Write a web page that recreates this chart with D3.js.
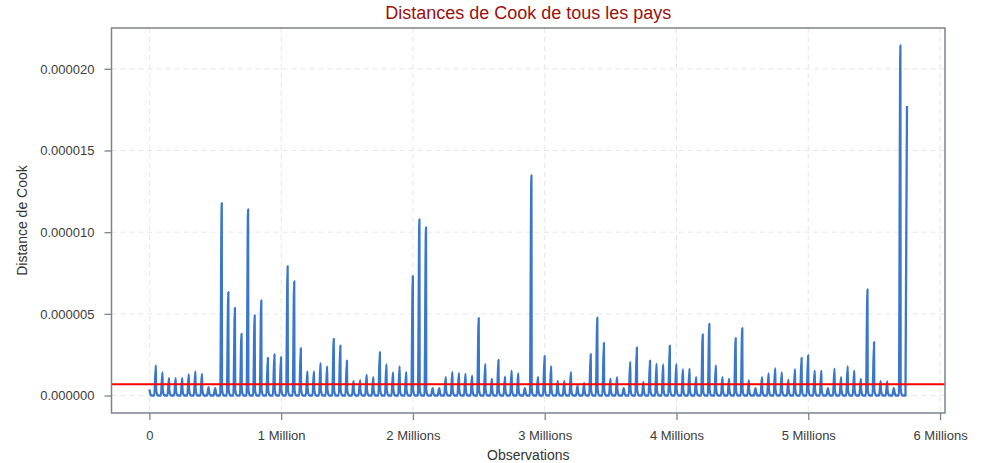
<html>
<head>
<meta charset="utf-8">
<title>Distances de Cook de tous les pays</title>
<script src="https://d3js.org/d3.v7.min.js"></script>
<style>
  body { margin: 0; background: #fff; }
  text { font-family: "Liberation Sans", Arial, sans-serif; }
</style>
</head>
<body>
<div id="chart"></div>
<script>
// Cook's distance peak of each country block (x 1e-6), one block = 50 000 observations
var blockSize = 50000;
var peaks = [
  1.84, 1.41, 1.06, 1.06, 1.06, 1.29, 1.47, 1.33, 0.51, 0.45,
  11.78, 6.33, 5.37, 3.78, 11.39, 4.90, 5.82, 2.31, 2.51, 2.35,
  7.92, 6.98, 2.90, 1.47, 1.47, 1.98, 1.78, 3.47, 3.06, 2.14,
  0.88, 0.92, 1.27, 1.12, 2.65, 1.90, 1.41, 1.78, 1.43, 7.31,
  10.78, 10.29, 0.45, 0.45, 1.12, 1.43, 1.37, 1.33, 1.22, 4.74,
  1.92, 1.02, 2.18, 1.16, 1.53, 1.35, 0.45, 13.47, 1.14, 2.41,
  1.80, 0.88, 0.88, 1.43, 0.60, 0.76, 2.53, 4.76, 3.22, 1.02,
  1.12, 0.45, 2.06, 2.94, 0.82, 2.14, 1.94, 1.90, 3.06, 1.92,
  1.61, 1.65, 1.12, 3.74, 4.39, 1.84, 1.12, 1.02, 3.51, 4.12,
  0.92, 0.45, 1.12, 1.35, 1.67, 1.41, 0.96, 1.61, 2.31, 2.45,
  1.53, 1.53, 0.45, 1.65, 1.12, 1.78, 1.53, 1.02, 6.49, 3.27,
  0.88, 0.86, 0.45, 21.43, 17.72
];
var blockStart = 0.37;   // value at the start of each block (x 1e-6)
var blockTrough = 0.0;   // value in the middle of each block (x 1e-6)
var threshold = 4 / 5750000;

var yTicks = [0, 0.000005, 0.00001, 0.000015, 0.00002];
var xTicks = [0, 1e6, 2e6, 3e6, 4e6, 5e6, 6e6];
var xTickLabels = ["0", "1 Million", "2 Millions", "3 Millions", "4 Millions", "5 Millions", "6 Millions"];

var W = 984, H = 463;
var margin = {top: 28, right: 39, bottom: 50, left: 111.5};
var width = W - margin.left - margin.right,
    height = H - margin.top - margin.bottom;

var svg = d3.select("#chart").append("svg")
    .attr("width", W)
    .attr("height", H);

var g = svg.append("g")
    .attr("transform", "translate(" + margin.left + "," + margin.top + ")");

var x = d3.scaleLinear().domain([-287500, 6037500]).range([0, width]);
var y = d3.scaleLinear().domain([-1.07e-6, 22.5e-6]).range([height, 0]);

// grid
g.selectAll(".gy").data(yTicks).enter().append("line")
    .attr("x1", 0).attr("x2", width)
    .attr("y1", function(d) { return y(d); }).attr("y2", function(d) { return y(d); })
    .style("stroke", "#e6e6e6").style("stroke-width", 1).style("stroke-dasharray", "5,4");
g.selectAll(".gx").data(xTicks).enter().append("line")
    .attr("y1", 0).attr("y2", height)
    .attr("x1", function(d) { return x(d); }).attr("x2", function(d) { return x(d); })
    .style("stroke", "#e6e6e6").style("stroke-width", 1).style("stroke-dasharray", "5,4");

// line points: each block starts at blockStart, drops into a trough, rises to its peak
var pts = [];
peaks.forEach(function(p, i) {
  var s = i * blockSize;
  pts.push([s + 0.02 * blockSize, blockStart * 1e-6]);
  pts.push([s + 0.25 * blockSize, blockTrough * 1e-6]);
  pts.push([s + 0.75 * blockSize, blockTrough * 1e-6]);
  pts.push([s + 0.98 * blockSize, p * 1e-6]);
});
pts[0][0] = 0;

var line = d3.line()
    .x(function(d) { return x(d[0]); })
    .y(function(d) { return y(d[1]); })
    .curve(d3.curveMonotoneX);

g.append("path")
    .datum(pts)
    .attr("d", line)
    .style("fill", "none")
    .style("stroke", "#3a76cc")
    .style("stroke-width", 2.3)
    .style("stroke-linejoin", "round");

g.append("line")
    .attr("x1", 0).attr("x2", width)
    .attr("y1", y(threshold)).attr("y2", y(threshold))
    .style("stroke", "#ff0000").style("stroke-width", 2);

// axes
var yAxis = d3.axisLeft(y).tickValues(yTicks).tickSize(7).tickPadding(10)
    .tickFormat(function(d) { return d.toFixed(6); });
var xAxis = d3.axisBottom(x).tickValues(xTicks).tickSize(7).tickPadding(11)
    .tickFormat(function(d, i) { return xTickLabels[i]; });

var ya = g.append("g").call(yAxis);
var xa = g.append("g").attr("transform", "translate(0," + height + ")").call(xAxis);
[ya, xa].forEach(function(a) {
  a.select(".domain").remove();
  a.selectAll("line").style("stroke", "#7d838c").style("stroke-width", 1.3);
  a.selectAll("text").style("font-size", "13px").style("fill", "#3c3c3c")
    .style("font-family", "'Liberation Sans', Arial, sans-serif");
});

// frame
g.append("rect")
    .attr("width", width).attr("height", height)
    .style("fill", "none").style("stroke", "#7d838c").style("stroke-width", 1.5);

// labels
svg.append("text")
    .attr("x", margin.left + width / 2).attr("y", 19)
    .attr("text-anchor", "middle")
    .style("font-size", "18px").style("fill", "#9b0f0f")
    .text("Distances de Cook de tous les pays");

svg.append("text")
    .attr("x", margin.left + width / 2).attr("y", 460)
    .attr("text-anchor", "middle")
    .style("font-size", "14px").style("fill", "#333")
    .text("Observations");

svg.append("text")
    .attr("transform", "translate(27," + (margin.top + height / 2) + ") rotate(-90)")
    .attr("text-anchor", "middle")
    .style("font-size", "14px").style("fill", "#333")
    .text("Distance de Cook");
</script>
</body>
</html>
